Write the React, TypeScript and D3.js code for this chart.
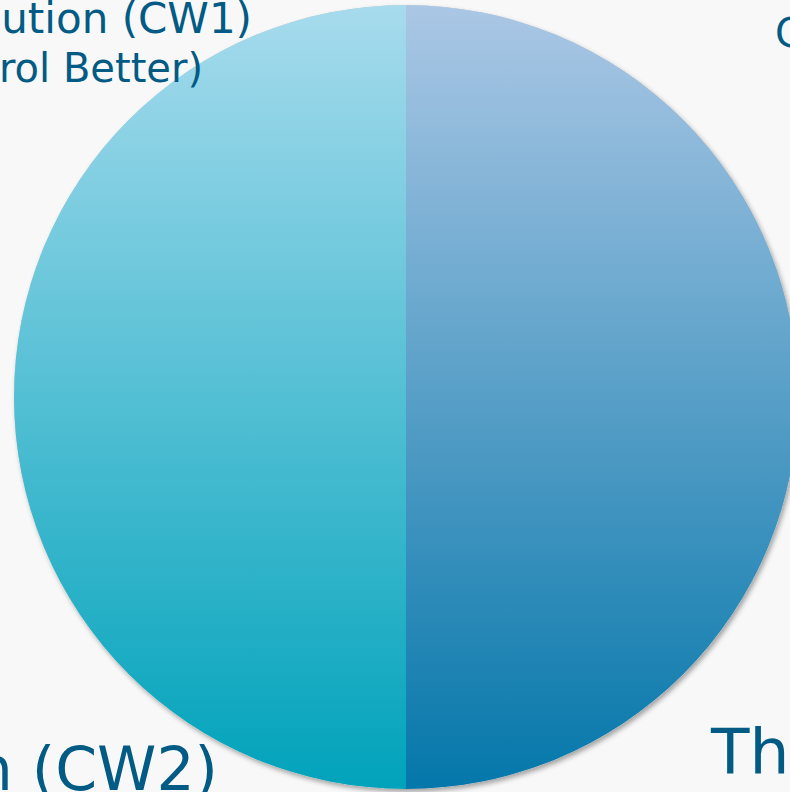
import { useRef, useEffect } from 'react'
import * as d3 from 'd3'

// the two halves of the pie
const categories = ['Control Better', 'Solution (CW2)']
const values = [50, 50]
// label text as shown (clipped by the frame in the original)
const labelLines = [
  ['Control Better', 'The Same'],
  ['Solution (CW1)', '(Control Better)', 'Solution (CW2)'],
]
const topColors = ['#abc7e5', '#a7dbed']
const bottomColors = ['#0477aa', '#00a3bb']

function App() {
  const ref = useRef<SVGSVGElement>(null)

  useEffect(() => {
    const width = 790, height = 792
    const cx = 406, cy = 397, r = 392
    const svg = d3.select(ref.current)
    svg.selectAll('*').remove()

    svg.append('rect').attr('width', width).attr('height', height).attr('fill', '#f8f8f8')

    const defs = svg.append('defs')
    const f = defs.append('filter').attr('id', 'shadow').attr('x', '-10%').attr('y', '-10%').attr('width', '120%').attr('height', '120%')
    f.append('feDropShadow').attr('dx', 2).attr('dy', 3).attr('stdDeviation', 2.5)
      .attr('flood-color', '#000').attr('flood-opacity', 0.35)

    categories.forEach((c, i) => {
      const g = defs.append('linearGradient').attr('id', 'grad' + i)
        .attr('gradientUnits', 'userSpaceOnUse')
        .attr('x1', 0).attr('y1', -r).attr('x2', 0).attr('y2', r)
      g.append('stop').attr('offset', '0%').attr('stop-color', topColors[i])
      g.append('stop').attr('offset', '100%').attr('stop-color', bottomColors[i])
    })

    const pie = d3.pie<number>().sort(null)
    const arc = d3.arc<d3.PieArcDatum<number>>().innerRadius(0).outerRadius(r)

    const g = svg.append('g').attr('transform', `translate(${cx},${cy})`)
    g.append('circle').attr('r', r).attr('fill', '#ccc').attr('filter', 'url(#shadow)')
    g.selectAll('path.slice')
      .data(pie(values))
      .enter()
      .append('path')
      .attr('class', 'slice')
      .attr('d', arc)
      .attr('fill', (d, i) => `url(#grad${i})`)

    const font = '"DejaVu Sans", Verdana, sans-serif'
    const txt = (s: string, x: number, y: number, size: number, anchor: string) =>
      svg.append('text').attr('x', x).attr('y', y).attr('text-anchor', anchor)
        .style('font-family', font).style('font-size', size + 'px')
        .attr('fill', '#025b84').text(s)

    txt(labelLines[1][0], 252, 33, 42, 'end')
    txt(labelLines[1][1], 203, 82, 40, 'end')
    txt(labelLines[1][2], 218, 790, 60, 'end')
    txt(labelLines[0][0], 775, 47, 40, 'start')
    txt(labelLines[0][1], 711, 773, 63, 'start')
  }, [])

  return (
    <div style={{ position: 'fixed', left: 0, top: 0 }}>
      <svg ref={ref} width={790} height={792} style={{ display: 'block' }}></svg>
    </div>
  )
}

export default App
